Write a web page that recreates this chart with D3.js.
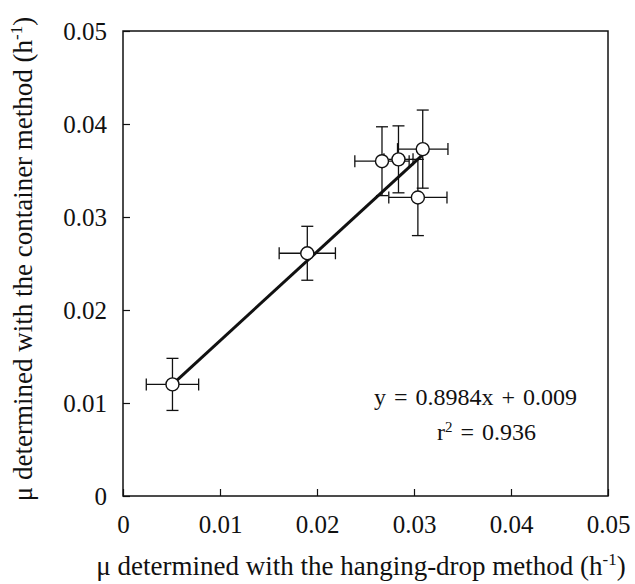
<!DOCTYPE html>
<html>
<head>
<meta charset="utf-8">
<script src="https://cdn.jsdelivr.net/npm/d3@7"></script>
<style>
  body { margin: 0; background: #fff; }
  svg text { font-family: "Liberation Serif", "Times New Roman", serif; fill: #111; }
</style>
</head>
<body>
<svg id="chart"></svg>
<script>
// hanging-drop (x) vs container (y) growth rates
var hangX   = [0.0051, 0.0190, 0.0267, 0.0284, 0.0309, 0.0304];
var hangErr = [0.0027, 0.0029, 0.0028, 0.0015, 0.0026, 0.0030];
var contY   = [0.0120, 0.0261, 0.0360, 0.0362, 0.0373, 0.0321];
var contErr = [0.0028, 0.0029, 0.0037, 0.0036, 0.0042, 0.0041];

// fitted line as drawn (end points)
var fitX = [0.0051, 0.0308];
var fitY = [0.0120, 0.0366];

var ticks = [0, 0.01, 0.02, 0.03, 0.04, 0.05];
var tickLabels = ["0", "0.01", "0.02", "0.03", "0.04", "0.05"];

var eqLine = "y = 0.8984x + 0.009";
var r2Value = "0.936";

const margin = { top: 31, right: 27, bottom: 88, left: 123 };
const width = 635 - margin.left - margin.right;
const height = 584 - margin.top - margin.bottom;
const serif = '"Liberation Serif", "Times New Roman", serif';

const svg = d3.select("#chart")
  .attr("width", 635)
  .attr("height", 584);

const g = svg.append("g")
  .attr("transform", `translate(${margin.left}, ${margin.top})`);

const x = d3.scaleLinear().domain([0, 0.05]).range([0, width]);
const y = d3.scaleLinear().domain([0, 0.05]).range([height, 0]);

const fmt = (d) => tickLabels[ticks.indexOf(d)];

const xAxis = g.append("g")
  .attr("transform", `translate(0, ${height})`)
  .call(d3.axisBottom(x).tickValues(ticks).tickFormat(fmt).tickSizeInner(-7).tickSizeOuter(0));
xAxis.selectAll("text")
  .attr("y", 37).attr("dy", 0)
  .attr("font-family", serif)
  .style("font-size", "25px");

const yAxis = g.append("g")
  .call(d3.axisLeft(y).tickValues(ticks).tickFormat(fmt).tickSizeInner(-7).tickSizeOuter(0));
yAxis.selectAll("text")
  .attr("x", -16).attr("dy", "0.33em")
  .attr("font-family", serif)
  .style("font-size", "25px");

g.selectAll(".domain").remove();
g.selectAll(".tick line").attr("stroke", "#111").attr("stroke-width", 1.2);

// frame
g.append("rect")
  .attr("x", 0).attr("y", 0)
  .attr("width", width).attr("height", height)
  .attr("fill", "none")
  .attr("stroke", "#111")
  .attr("stroke-width", 1.5);

const pts = hangX.map((d, i) => ({ x: d, xe: hangErr[i], y: contY[i], ye: contErr[i] }));
const cap = 6;

// error bars
const eb = g.selectAll(".err").data(pts).join("g").attr("class", "err")
  .attr("stroke", "#111").attr("stroke-width", 1.3);
eb.append("line")
  .attr("x1", (d) => x(d.x - d.xe)).attr("x2", (d) => x(d.x + d.xe))
  .attr("y1", (d) => y(d.y)).attr("y2", (d) => y(d.y));
eb.append("line")
  .attr("x1", (d) => x(d.x)).attr("x2", (d) => x(d.x))
  .attr("y1", (d) => y(d.y - d.ye)).attr("y2", (d) => y(d.y + d.ye));
[-1, 1].forEach(function (s) {
  eb.append("line")
    .attr("x1", (d) => x(d.x + s * d.xe)).attr("x2", (d) => x(d.x + s * d.xe))
    .attr("y1", (d) => y(d.y) - cap).attr("y2", (d) => y(d.y) + cap);
  eb.append("line")
    .attr("x1", (d) => x(d.x) - cap).attr("x2", (d) => x(d.x) + cap)
    .attr("y1", (d) => y(d.y + s * d.ye)).attr("y2", (d) => y(d.y + s * d.ye));
});

// fit line
g.append("line")
  .attr("x1", x(fitX[0])).attr("y1", y(fitY[0]))
  .attr("x2", x(fitX[1])).attr("y2", y(fitY[1]))
  .attr("stroke", "#111")
  .attr("stroke-width", 3);

// points
g.selectAll("circle")
  .data(pts)
  .join("circle")
  .attr("cx", (d) => x(d.x))
  .attr("cy", (d) => y(d.y))
  .attr("r", 6.5)
  .attr("fill", "#fff")
  .attr("stroke", "#111")
  .attr("stroke-width", 1.4);

// equation
svg.append("text")
  .attr("x", 374).attr("y", 405)
  .style("font-size", "24px")
  .style("word-spacing", "2px")
  .text(eqLine);
const r2 = svg.append("text")
  .attr("x", 437).attr("y", 440)
  .style("font-size", "24px")
  .style("word-spacing", "2px");
r2.append("tspan").text("r");
r2.append("tspan").attr("dy", -8).style("font-size", "15px").text("2");
r2.append("tspan").attr("dy", 8).text(" = " + r2Value);

// axis titles
const xt = svg.append("text")
  .attr("x", 361).attr("y", 575)
  .attr("text-anchor", "middle")
  .style("font-size", "27px");
xt.append("tspan").text("\u03bc determined with the hanging-drop method (h");
xt.append("tspan").attr("dy", -10).style("font-size", "17px").text("-1");
xt.append("tspan").attr("dy", 10).text(")");

const yt = svg.append("text")
  .attr("transform", "translate(32, 259) rotate(-90)")
  .attr("text-anchor", "middle")
  .style("font-size", "27px");
yt.append("tspan").text("\u03bc determined with the container method (h");
yt.append("tspan").attr("dy", -10).style("font-size", "17px").text("-1");
yt.append("tspan").attr("dy", 10).text(")");
</script>
</body>
</html>
